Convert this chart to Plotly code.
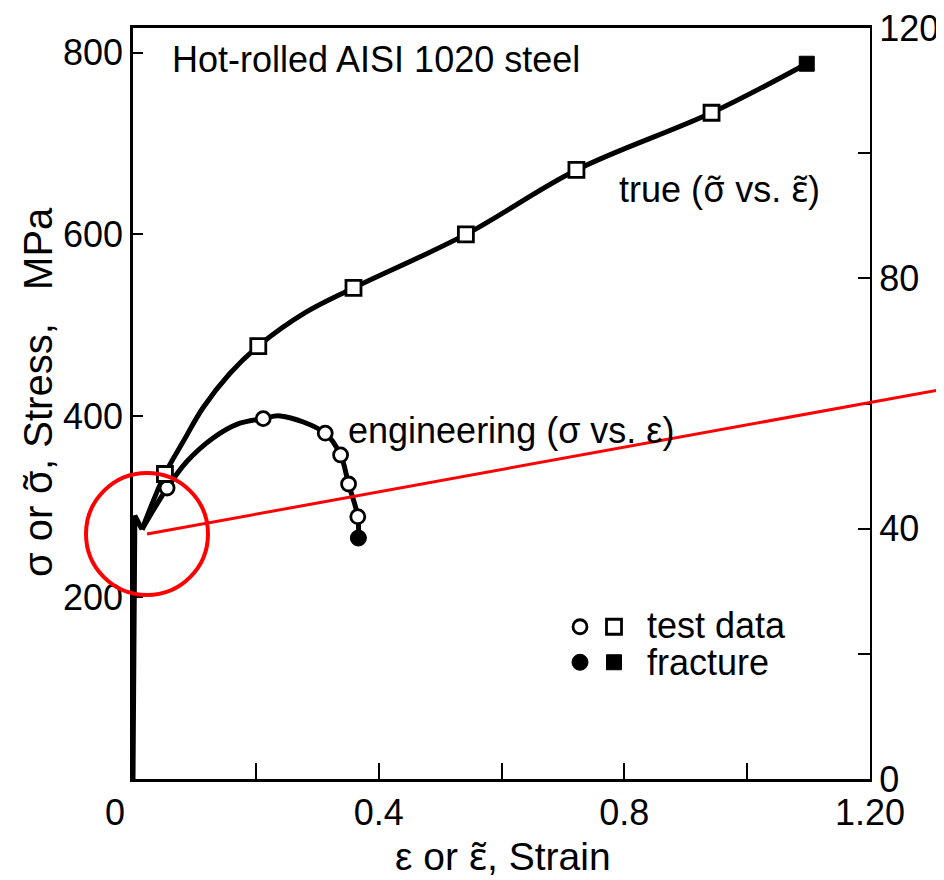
import plotly.graph_objects as go

# ---- data ----
# elastic / yield region shared by both curves (strain, MPa)
yield_strain = [0.0, 0.003, 0.0147]
yield_stress = [0.0, 290.0, 275.0]

# engineering test data (sigma vs eps)
eng_strain = [0.0555, 0.212, 0.313, 0.338, 0.351, 0.366]
eng_stress = [320.6, 397.0, 381.0, 357.0, 325.0, 289.0]
eng_frac_strain = [0.367]
eng_frac_stress = [265.5]
# engineering curve (between the yield dip and fracture)
eng_curve_strain = [0.0147, 0.0555, 0.088, 0.131, 0.170, 0.212, 0.240, 0.313, 0.338, 0.351, 0.366, 0.367]
eng_curve_stress = [275.0, 320.6, 350.0, 376.0, 391.0, 397.0, 400.0, 381.0, 357.0, 325.0, 289.0, 265.5]

# true test data (sigma~ vs eps~)
true_strain = [0.052, 0.204, 0.359, 0.542, 0.722, 0.942]
true_stress = [336.0, 477.0, 541.0, 600.0, 671.0, 734.0]
true_frac_strain = [1.097]
true_frac_stress = [788.0]
# true curve
true_curve_strain = [0.0147, 0.052, 0.082, 0.114, 0.158, 0.204, 0.281, 0.359, 0.542, 0.722, 0.942, 1.097]
true_curve_stress = [275.0, 336.0, 372.0, 409.0, 447.0, 477.0, 514.0, 541.0, 600.0, 671.0, 734.0, 788.0]

x_tickvals = [0, 0.2, 0.4, 0.6, 0.8, 1.0, 1.2]
x_ticktext = ["0\u2002\u2002", "", "0.4", "", "0.8", "", "1.20"]
y_tickvals = [200, 400, 600, 800]
y2_tickvals = [0, 20, 40, 60, 80, 100, 120]
y2_ticktext = ["0", "", "40", "", "80", "", "120"]

KSI_TO_MPA = 6.894757
FONT = "Liberation Sans, Arial, Helvetica, sans-serif"
FS = 36
TFS = 39
TILDE = '<span style="font-family:Noto Sans">{}\u0303</span>'
SIG_T = TILDE.format("\u03c3")
EPS_T = TILDE.format("\u03b5")

# plot-area pixel geometry in the final picture (used for paper coords)
PX0, PX1, PY0, PY1 = 133, 870, 779, 28


def px(xp):
    return (xp - PX0) / (PX1 - PX0)


def py(yp):
    return (PY0 - yp) / (PY0 - PY1)


fig = go.Figure()

LW = 5
fig.add_trace(go.Scatter(x=yield_strain, y=yield_stress, mode="lines",
                         line=dict(color="black", width=LW), showlegend=False))
fig.add_trace(go.Scatter(x=eng_curve_strain, y=eng_curve_stress,
                         mode="lines", line=dict(color="black", width=LW, shape="spline", smoothing=1.0),
                         showlegend=False))
fig.add_trace(go.Scatter(x=true_curve_strain, y=true_curve_stress,
                         mode="lines", line=dict(color="black", width=LW, shape="spline", smoothing=1.0),
                         showlegend=False))

NB = "\u00a0"
fig.add_trace(go.Scatter(x=eng_strain, y=eng_stress, mode="markers", name=NB,
                         marker=dict(symbol="circle", size=14, color="white",
                                     line=dict(color="black", width=2.8)),
                         legend="legend", legendrank=1))
fig.add_trace(go.Scatter(x=eng_frac_strain, y=eng_frac_stress, mode="markers", name=NB,
                         marker=dict(symbol="circle", size=16, color="black",
                                     line=dict(color="black", width=1)),
                         legend="legend", legendrank=2))
fig.add_trace(go.Scatter(x=true_strain, y=true_stress, mode="markers", name=NB,
                         marker=dict(symbol="square", size=15, color="white",
                                     line=dict(color="black", width=2.8)),
                         legend="legend2", legendrank=1))
fig.add_trace(go.Scatter(x=true_frac_strain, y=true_frac_stress, mode="markers", name=NB,
                         marker=dict(symbol="square", size=15, color="black",
                                     line=dict(color="black", width=1)),
                         legend="legend2", legendrank=2))

fig.add_trace(go.Scatter(x=[None], y=[None], yaxis="y2", showlegend=False, hoverinfo="skip"))

ymax = 120 * KSI_TO_MPA
# body margin of the page is 8 px, so subtract it from left/top margins
fig.update_layout(
    width=944, height=880,
    margin=dict(l=PX0 - 8, r=944 - PX1 + 8, t=PY1 - 8, b=880 - PY0 + 8, autoexpand=False),
    paper_bgcolor="white", plot_bgcolor="white",
    font=dict(family=FONT, size=FS, color="black"),
    xaxis=dict(range=[0, 1.2], tickvals=x_tickvals, ticktext=x_ticktext,
               ticks="inside", ticklen=16, tickwidth=1.5, tickcolor="black",
               showline=True, linecolor="black", linewidth=2.5, mirror=True,
               showgrid=False, zeroline=False, ticklabeloverflow="allow", automargin=False,
               tickfont=dict(size=FS)),
    yaxis=dict(range=[0, ymax], tickvals=y_tickvals,
               ticks="inside", ticklen=10, tickwidth=1.5, tickcolor="black",
               showline=True, linecolor="black", linewidth=2.5, mirror=False,
               showgrid=False, zeroline=False, ticklabeloverflow="allow", automargin=False,
               tickfont=dict(size=FS)),
    yaxis2=dict(range=[0, 120], overlaying="y", side="right",
                tickvals=y2_tickvals, ticktext=y2_ticktext,
                ticks="inside", ticklen=12, tickwidth=1.5, tickcolor="black",
                showline=True, linecolor="black", linewidth=2, showgrid=False, zeroline=False,
                ticklabeloverflow="allow", automargin=False,
                tickfont=dict(size=FS)),
    legend=dict(x=px(560), y=py(604), xanchor="left", yanchor="top",
                bgcolor="rgba(0,0,0,0)", font=dict(size=25), tracegroupgap=0,
                itemsizing="trace"),
    legend2=dict(x=px(594), y=py(604), xanchor="left", yanchor="top",
                 bgcolor="rgba(0,0,0,0)", font=dict(size=25), tracegroupgap=0,
                 itemsizing="trace"),
    showlegend=True,
)

# axis titles (as paper-anchored text for exact placement)
fig.add_annotation(text="\u03b5 or " + EPS_T + ", Strain", xref="paper", yref="paper",
                   x=px(503), y=py(855), xanchor="center", yanchor="middle",
                   showarrow=False, font=dict(size=TFS))
fig.add_annotation(text="\u03c3 or " + SIG_T + ", Stress,   MPa", xref="paper", yref="paper",
                   x=px(36), y=py(392), xanchor="center", yanchor="middle", textangle=-90,
                   showarrow=False, font=dict(size=40))

ann_font = dict(size=FS)
fig.add_annotation(text="Hot-rolled AISI 1020 steel", xref="paper", yref="paper",
                   x=px(170), y=py(60), xanchor="left", yanchor="middle",
                   showarrow=False, font=ann_font)
fig.add_annotation(text="true (" + SIG_T + " vs. " + EPS_T + ")", xref="paper", yref="paper",
                   x=px(822), y=py(188), xanchor="right", yanchor="middle",
                   showarrow=False, font=ann_font)
fig.add_annotation(text="engineering (\u03c3 vs. \u03b5)", xref="paper", yref="paper",
                   x=px(346), y=py(430), xanchor="left", yanchor="middle",
                   showarrow=False, font=ann_font)
fig.add_annotation(text="test data", xref="paper", yref="paper",
                   x=px(645), y=py(625), xanchor="left", yanchor="middle",
                   showarrow=False, font=ann_font)
fig.add_annotation(text="fracture", xref="paper", yref="paper",
                   x=px(645), y=py(662), xanchor="left", yanchor="middle",
                   showarrow=False, font=ann_font)

# red highlight annotation (circle + pointer line)
fig.add_shape(type="circle", xref="paper", yref="paper",
              x0=px(86), x1=px(208), y0=py(595), y1=py(473),
              line=dict(color="red", width=4), layer="above")
fig.add_shape(type="line", xref="paper", yref="paper",
              x0=px(147), y0=py(534), x1=px(944), y1=py(389),
              line=dict(color="red", width=3), layer="above")

fig.write_html("out.html")
